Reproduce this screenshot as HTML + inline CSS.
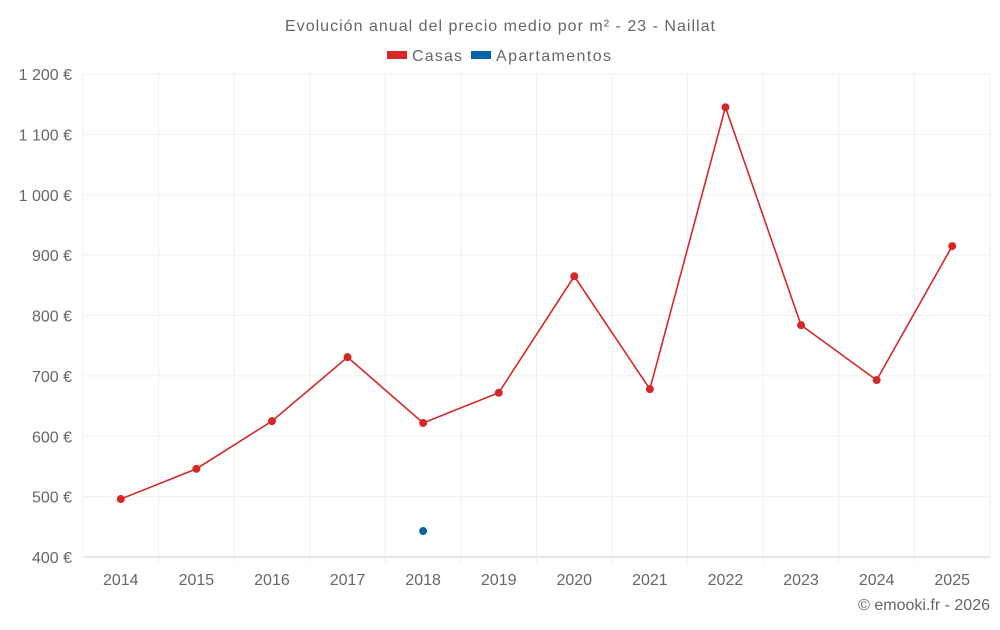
<!DOCTYPE html>
<html><head><meta charset="utf-8"><style>
body{margin:0;background:#fff;font-family:"Liberation Sans",sans-serif;}
svg text{font-family:"Liberation Sans",sans-serif;fill:#666;}
</style></head><body>
<svg id="chart" width="1000" height="625">
<text x="500" y="31" text-anchor="middle" font-size="16" textLength="430">Evolución anual del precio medio por m² - 23 - Naillat</text>
<g>
<g><rect x="387" y="51" width="20" height="8" fill="#d62728"/><text x="412" y="61" font-size="16" textLength="50">Casas</text></g>
<g><rect x="471" y="51" width="20" height="8" fill="#0565a4"/><text x="496" y="61" font-size="16" textLength="115">Apartamentos</text></g>
</g>
<g id="grid"></g><g id="axes"></g><g id="series"></g>
<text x="990" y="610" text-anchor="end" font-size="16">© emooki.fr - 2026</text>
</svg>
<script>
const categories=["2014","2015","2016","2017","2018","2019","2020","2021","2022","2023","2024","2025"];
const casas=[496,546,625,731,622,672,865,678,1145,784,693,915];
const apartamentos=[null,null,null,null,443,null,null,null,null,null,null,null];
const yTicks=[400,500,600,700,800,900,1000,1100,1200];
const yLabels=["400 €","500 €","600 €","700 €","800 €","900 €","1 000 €","1 100 €","1 200 €"];
const L=83,R=990,T=74,B=557,NS="http://www.w3.org/2000/svg";
const bw=(R-L)/categories.length;
const x=i=>L+bw*(i+0.5);
const y=v=>B-(v-400)/800*(B-T);
function mk(tag,attrs,parent){const e=document.createElementNS(NS,tag);for(const k in attrs)e.setAttribute(k,attrs[k]);parent.appendChild(e);return e;}
const grid=document.getElementById('grid'),axes=document.getElementById('axes'),series=document.getElementById('series');
yTicks.forEach((t,i)=>{
 const l=mk('line',{x1:L,x2:R,y1:y(t),y2:y(t),stroke:i==0?'#ccc':'#f0f0f0'},grid);
 
 
 const tx=mk('text',{x:72,y:y(t)+6,'text-anchor':'end','font-size':16},axes);tx.textContent=yLabels[i];
 
 
});
for(let i=0;i<=categories.length;i++){
 const gx=L+bw*i;
 const l=mk('line',{x1:gx,x2:gx,y1:T,y2:B+(i==0||i==categories.length?0:6),stroke:'#f0f0f0'},grid);
 
 
}
categories.forEach((c,i)=>{
 const tx=mk('text',{x:x(i),y:585,'text-anchor':'middle','font-size':16},axes);tx.textContent=c;
 
 
});
const pts=casas.map((v,i)=>v==null?null:x(i)+','+y(v)).filter(Boolean).join(' ');
const pl=mk('polyline',{points:pts,fill:'none',stroke:'#d62728','stroke-width':1.6},series);


casas.forEach((v,i)=>{if(v==null)return;
 const c=mk('circle',{cx:x(i),cy:y(v),r:4,fill:'#d62728'},series);
 
 
});
apartamentos.forEach((v,i)=>{if(v==null)return;
 const c=mk('circle',{cx:x(i),cy:y(v),r:4,fill:'#0565a4'},series);
 
 
});
</script>
</body></html>
